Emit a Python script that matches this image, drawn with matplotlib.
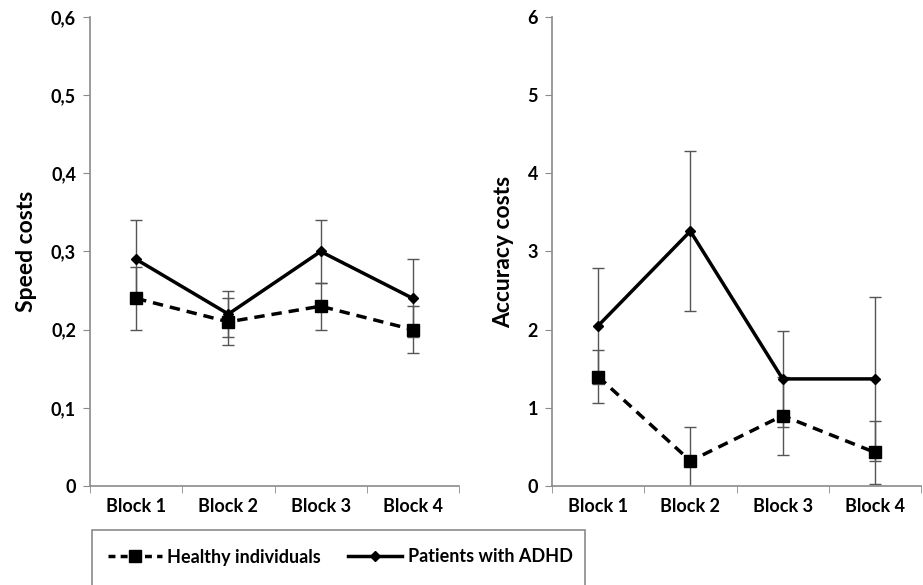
import numpy as np
import matplotlib
matplotlib.use("Agg")
import matplotlib.pyplot as plt
from matplotlib.patches import Rectangle
from matplotlib.lines import Line2D

plt.rcParams['font.family'] = ['Lato', 'DejaVu Sans']
plt.rcParams['font.weight'] = 'bold'

blocks = ["Block 1", "Block 2", "Block 3", "Block 4"]

# Speed costs
speed_healthy = [0.24, 0.21, 0.23, 0.20]
speed_healthy_err = [0.04, 0.03, 0.03, 0.03]
speed_adhd = [0.29, 0.22, 0.30, 0.24]
speed_adhd_err = [0.05, 0.03, 0.04, 0.05]

# Accuracy costs
acc_healthy = [1.40, 0.32, 0.90, 0.43]
acc_healthy_err = [0.34, 0.43, 0.50, 0.40]
acc_adhd = [2.05, 3.26, 1.37, 1.37]
acc_adhd_err = [0.74, 1.02, 0.61, 1.05]

gray = "#8a8a8a"
errc = "#555555"

fig = plt.figure(figsize=(9.23, 5.85), dpi=100)
ax1 = fig.add_axes([90/923, 99/585, 369/923, 469/585])
ax2 = fig.add_axes([552/923, 99/585, 369/923, 469/585])


def draw(ax, healthy, h_err, adhd, a_err, ymax, ylabel, labels):
    x = np.arange(len(blocks))
    ax.errorbar(x, healthy, yerr=h_err, fmt="none", ecolor=errc, elinewidth=1,
                capsize=4, capthick=1, zorder=2)
    ax.errorbar(x, adhd, yerr=a_err, fmt="none", ecolor=errc, elinewidth=1,
                capsize=4, capthick=1, zorder=2)
    ax.plot(x, healthy, color="black", lw=2.5, ls=(0, (3, 2)), marker="s",
            ms=8, zorder=3, clip_on=False)
    ax.plot(x, adhd, color="black", lw=2.5, marker="D", ms=5.5, zorder=3,
            clip_on=False)
    ax.set_xlim(-0.5, len(blocks) - 0.5)
    ax.set_ylim(0, ymax)
    ax.set_yticks(np.linspace(0, ymax, 7))
    ax.set_yticklabels(labels, fontsize=13, fontweight="bold")
    ax.set_xticks(x)
    ax.set_xticklabels(blocks, fontsize=13, fontweight="bold")
    ax.set_xticks(np.arange(len(blocks) + 1) - 0.5, minor=True)
    ax.tick_params(axis="x", which="major", length=0, pad=9)
    ax.tick_params(axis="x", which="minor", length=5, color=gray, direction="out")
    ax.tick_params(axis="y", length=5, color=gray, direction="out", pad=5)
    for s in ["top", "right"]:
        ax.spines[s].set_visible(False)
    for s in ["left", "bottom"]:
        ax.spines[s].set_color(gray)
        ax.spines[s].set_linewidth(1.2)
    ax.set_ylabel(ylabel, fontsize=16.5, fontweight="bold", labelpad=10)


draw(ax1, speed_healthy, speed_healthy_err, speed_adhd, speed_adhd_err, 0.6,
     "Speed costs", ["0", "0,1", "0,2", "0,3", "0,4", "0,5", "0,6"])
draw(ax2, acc_healthy, acc_healthy_err, acc_adhd, acc_adhd_err, 6,
     "Accuracy costs", ["0", "1", "2", "3", "4", "5", "6"])

# legend box
fig.patches.append(Rectangle((92/923, -0.05), 493/923, 0.05 + 55/585,
                             transform=fig.transFigure, fill=False,
                             edgecolor=gray, lw=1.2))
handles = [
    Line2D([], [], color="black", lw=2.5, ls=(0, (2, 1.5)), marker="s", ms=8),
    Line2D([], [], color="black", lw=2.5, marker="D", ms=5),
]
fig.legend(handles, ["Healthy individuals", "Patients with ADHD"], ncol=2,
           loc="center", bbox_to_anchor=(340/923, 28/585), frameon=False,
           prop={"size": 13, "weight": "bold"}, handlelength=3.0,
           handletextpad=0.3, columnspacing=1.5)

fig.savefig("out.png", dpi=100)
